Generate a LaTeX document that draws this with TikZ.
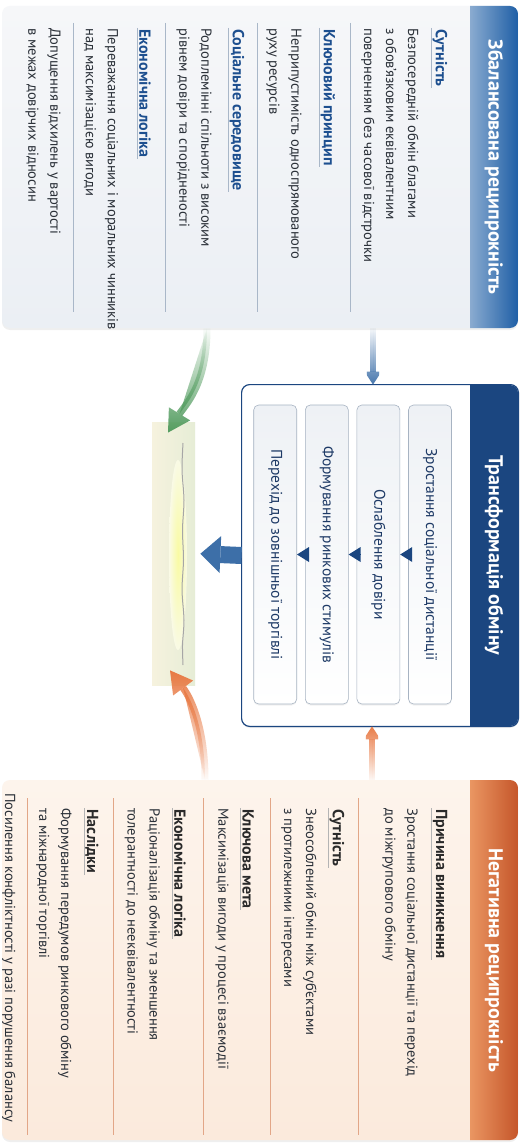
\documentclass[tikz,border=0pt]{standalone}
\usepackage{fontspec}
\setmainfont{PT Sans}
\usetikzlibrary{arrows.meta, positioning, shadows, calc, fadings}

\definecolor{balHeadA}{HTML}{1F5FA6}
\definecolor{balHeadB}{HTML}{8AABD0}
\definecolor{balBgA}{HTML}{EBEFF4}
\definecolor{balBgB}{HTML}{F6F7F9}
\definecolor{headBlue}{HTML}{1D4F8F}
\definecolor{bodyTxt}{HTML}{2A3038}
\definecolor{sepBlue}{HTML}{A9B7C8}
\definecolor{navy}{HTML}{1B4680}
\definecolor{stepLine}{HTML}{A7B3C2}
\definecolor{stepFill}{HTML}{EEF1F5}
\definecolor{stepTxt}{HTML}{1E3A66}
\definecolor{negBgA}{HTML}{FBEADC}
\definecolor{negBgB}{HTML}{FDF4EC}
\definecolor{negHeadA}{HTML}{C5562A}
\definecolor{negHeadB}{HTML}{EA9662}
\definecolor{negTitle}{HTML}{2A2A2A}
\definecolor{sepOrange}{HTML}{E2A687}
\definecolor{flowBlue}{HTML}{3D6FA8}
\definecolor{flowGreen}{HTML}{4F9A5C}
\definecolor{flowOrange}{HTML}{E8763F}
\definecolor{flowPeach}{HTML}{F2A272}
\definecolor{stripA}{HTML}{E6EDD6}
\definecolor{stripB}{HTML}{F6F2DE}

\begin{document}
\begin{tikzpicture}[x=1pt, y=1pt, >=latex, thick,
    card/.style={rounded corners=8pt, inner sep=0pt,
      drop shadow={opacity=.12, shadow xshift=0pt, shadow yshift=-2pt}},
    titletxt/.style={text=white, font=\fontsize{20}{24}\selectfont\bfseries},
    bhead/.style={anchor=west, inner sep=1pt, text=headBlue,
      font=\fontsize{16}{19}\selectfont\bfseries},
    nhead/.style={bhead, text=negTitle},
    body/.style={anchor=west, inner sep=0pt, align=left, text=bodyTxt,
      font=\fontsize{14.5}{22}\selectfont},
    ulB/.style={draw=sepBlue, line width=0.8pt},
    ulO/.style={draw=negTitle!35, line width=0.8pt},
    sepB/.style={draw=sepBlue, line width=0.8pt},
    sepO/.style={draw=sepOrange, line width=0.8pt},
    stepbox/.style={draw=stepLine, line width=0.6pt, rounded corners=5pt,
      top color=stepFill, bottom color=white, text=stepTxt,
      minimum width=299pt, minimum height=43pt, inner sep=0pt,
      font=\fontsize{15.5}{18}\selectfont,
      drop shadow={opacity=.10, shadow xshift=0pt, shadow yshift=-1.5pt}},
    stepflow/.style={-{Triangle[width=15pt,length=12pt,line width=0pt]},
      draw=navy, fill=navy, line width=0.1pt},
    bigflow/.style={-{Triangle[width=37pt,length=20pt,line width=0pt]},
      draw=flowBlue, line width=17pt},
    thinflow/.style={-{Triangle[width=17pt,length=13pt,line width=0pt]},
      line width=6pt},
    curveflow/.style={-{Triangle[width=25pt,length=22pt,line width=0pt]},
      line width=7pt}]
\begin{scope}[rotate=-90, transform shape]
\useasboundingbox (0,0) rectangle (1147,525);
\fill[white] (0,0) rectangle (1147,525);

% balanced reciprocity
\node[card, top color=balBgB, bottom color=balBgA,
  minimum width=322pt, minimum height=516pt] (bal) at (167,260) {};
\begin{scope}
  \clip[rounded corners=8pt] (6,2) rectangle (328,518);
  \shade[left color=balHeadB, right color=balHeadA] (6,470) rectangle (328,518);
\end{scope}
\node[titletxt] (balT) at (167,494) {Збалансована реципрокність};

\node[bhead] (bh1) at (28,440) {Сутність};
\draw[ulB] (bh1.south west) -- (bh1.south east);
\node[body] (bb1) at (28,390) {Безпосередній обмін благами\\з обов’язковим еквівалентним\\поверненням без часової відстрочки};
\node[bhead] (bh2) at (28,328) {Ключовий принцип};
\draw[ulB] (bh2.south west) -- (bh2.south east);
\node[body] (bb2) at (28,284) {Неприпустимість односпрямованого\\руху ресурсів};
\node[bhead] (bh3) at (28,237) {Соціальне середовище};
\draw[ulB] (bh3.south west) -- (bh3.south east);
\node[body] (bb3) at (28,194) {Родоплемінні спільноти з високим\\рівнем довіри та спорідненості};
\node[bhead] (bh4) at (28,145) {Економічна логіка};
\draw[ulB] (bh4.south west) -- (bh4.south east);
\node[body] (bb4) at (28,101) {Переважання соціальних і моральних чинників\\над максимізацією вигоди};
\node[body] (bb5) at (28,43) {Допущення відхилень у вартості\\в межах довірчих відносин};
\foreach \y in {350,257,165,73}
  \draw[sepB] (23,\y) -- (312,\y);

% transformation
\node[card, fill=white, minimum width=341pt, minimum height=276pt] (trans) at (555.5,380) {};
\begin{scope}
  \clip[rounded corners=8pt] (385,242) rectangle (726,518);
  \fill[navy] (385,470) rectangle (726,518);
\end{scope}
\draw[navy, line width=1.2pt, rounded corners=8pt] (trans.south west) rectangle (trans.north east);
\node[titletxt] (transT) at (555.5,494) {Трансформація обміну};

\node[stepbox] (s1) at (554.5,430) {Зростання соціальної дистанції};
\node[stepbox, below=8pt of s1] (s2) {Ослаблення довіри};
\node[stepbox, below=8pt of s2] (s3) {Формування ринкових стимулів};
\node[stepbox, below=8pt of s3] (s4) {Перехід до зовнішньої торгівлі};
\draw[stepflow] (s1.south) -- (s2.north);
\draw[stepflow] (s2.south) -- (s3.north);
\draw[stepflow] (s3.south) -- (s4.north);

% negative reciprocity
\node[card, top color=negBgB, bottom color=negBgA,
  minimum width=360pt, minimum height=516pt] (neg) at (960,260) {};
\begin{scope}
  \clip[rounded corners=8pt] (780,2) rectangle (1140,518);
  \shade[left color=negHeadB, right color=negHeadA] (780,470) rectangle (1140,518);
\end{scope}
\node[titletxt] (negT) at (960,494) {Негативна реципрокність};

\node[nhead] (nh1) at (808,440) {Причина виникнення};
\draw[ulO] (nh1.south west) -- (nh1.south east);
\node[body] (nb1) at (808,400) {Зростання соціальної дистанції та перехід\\до міжгрупового обміну};
\node[nhead] (nh2) at (808,337) {Сутність};
\draw[ulO] (nh2.south west) -- (nh2.south east);
\node[body] (nb2) at (808,299) {Знеособлений обмін між суб’єктами\\з протилежними інтересами};
\node[nhead] (nh3) at (808,248) {Ключова мета};
\draw[ulO] (nh3.south west) -- (nh3.south east);
\node[body] (nb3) at (808,222) {Максимізація вигоди у процесі взаємодії};
\node[nhead] (nh4) at (808,180) {Економічна логіка};
\draw[ulO] (nh4.south west) -- (nh4.south east);
\node[body] (nb4) at (808,142.5) {Раціоналізація обміну та зменшення\\толерантності до нееквівалентності};
\node[nhead] (nh5) at (808,92) {Наслідки};
\draw[ulO] (nh5.south west) -- (nh5.south east);
\node[body] (nb5) at (808,54) {Формування передумов ринкового обміну\\та міжнародної торгівлі};
\node[body] (nb6) at (793,9) {Посилення конфліктності у разі порушення балансу};
\foreach \y in {358,270,203,113,27}
  \draw[sepO] (798,\y) -- (1135,\y);

% outcome strip
\node[left color=stripB, right color=stripA,
  minimum width=263pt, minimum height=43pt, inner sep=0pt] (strip) at (553.5,173.5) {};
\shade[inner color=yellow!45, outer color=yellow!8, opacity=.7] (555,178) ellipse (95 and 9);
\draw[black!35, line width=1pt] plot[smooth] coordinates {(443,183) (470,182) (500,184) (530,182.5) (560,183.5) (590,182) (620,184) (645,182.5) (665,183)};

% flows
\draw[thinflow, draw=flowBlue, fill=flowBlue, path fading=north] ([yshift=113pt]bal.east) -- ([yshift=-7pt]trans.west);
\draw[thinflow, draw=flowOrange, fill=flowOrange, path fading=south] ([yshift=112pt]neg.west) -- ([yshift=-8pt]trans.east);
\draw[bigflow, shorten >=5pt] (trans.south) -- (strip.north);
\draw[curveflow, draw=flowGreen, fill=flowGreen, path fading=north] ([yshift=-53pt]bal.east) .. controls (385,207) and (405,185) .. ([xshift=11pt,yshift=-5.5pt]strip.west);
\draw[curveflow, draw=flowOrange, fill=flowOrange, path fading=south] ([yshift=-55pt]neg.west) .. controls (730,205) and (700,192) .. ([xshift=-15pt,yshift=-3.5pt]strip.east);
\end{scope}
\end{tikzpicture}
\end{document}
